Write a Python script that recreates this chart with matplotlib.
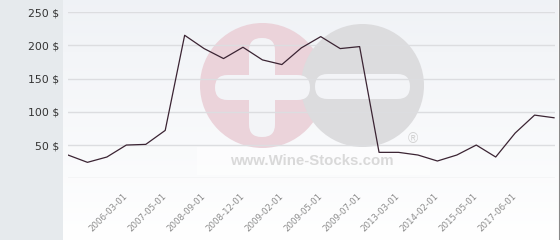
import numpy as np
import matplotlib
matplotlib.use("Agg")
import matplotlib.pyplot as plt
from matplotlib.patches import Circle, FancyBboxPatch, Rectangle

# price per bottle, one value per listed date
prices = [35, 24, 32, 50, 51, 72, 215, 195, 180, 197, 178, 171, 196,
          213, 195, 198, 39, 39, 35, 26, 35, 50, 32, 68, 95, 91]
# only every second point carries a date label on the axis
tick_points = [3, 5, 7, 9, 11, 13, 15, 17, 19, 21, 23]
tick_dates = ["2006-03-01", "2007-05-01", "2008-09-01", "2008-12-01",
              "2009-02-01", "2009-05-01", "2009-07-01", "2013-03-01",
              "2014-02-01", "2015-05-01", "2017-06-01"]
y_ticks = [0, 50, 100, 150, 200, 250]
y_labels = ["", "50 $", "100 $", "150 $", "200 $", "250 $"]

W, H = 560, 240
fig = plt.figure(figsize=(W / 100, H / 100), dpi=100)
fig.patch.set_facecolor("white")

# background layer in pixel coordinates
bg = fig.add_axes([0, 0, 1, 1])
bg.set_xlim(0, W)
bg.set_ylim(H, 0)
bg.axis("off")
bg.add_patch(Rectangle((0, 0), 63, H, color="#e6eaed", lw=0))
grad = np.linspace(0, 1, 256)[:, None]
top = np.array([0.94, 0.95, 0.965])
bot = np.array([1.0, 1.0, 1.0])
img = top[None, None, :] * (1 - grad[..., None]) + bot[None, None, :] * grad[..., None]
bg.imshow(img, extent=(63, 558, H, 0), aspect="auto", zorder=0.5)
bg.plot([558.5, 558.5], [0, H], color="#8a8a8a", lw=0.8)

# watermark
bar = "#f3f4f7"
bg.add_patch(Rectangle((197, 147), 233, 28, color="white", alpha=0.5, lw=0, zorder=1))
bg.add_patch(Circle((262.5, 85.5), 62.5, color="#ebd3da", lw=0, zorder=1))
bg.add_patch(Circle((362.5, 85.5), 61.5, color="#dcdcde", lw=0, zorder=1.1))
for x0, y0, w, h in [(215, 75, 95, 25), (249, 38, 26, 99), (315, 74, 95, 25)]:
    bg.add_patch(FancyBboxPatch((x0, y0), w, h,
                                boxstyle="round,pad=0,rounding_size=12.5",
                                color=bar, lw=0, zorder=1.2))
bg.text(312, 161, "www.Wine-Stocks.com", fontsize=10.8, fontweight="bold",
        family="Liberation Sans", color="#d9d9d9", ha="center", va="center", zorder=1.3)
bg.text(413, 139, "\u00ae", fontsize=10, family="Liberation Sans",
        color="#d2d2d2", ha="center", va="center", zorder=1.3)

# chart
ax = fig.add_axes([68 / W, (H - 178.3) / H, (555 - 68) / W, (178.3 - 12) / H])
ax.patch.set_alpha(0)
x = np.arange(len(prices))
ax.plot(x, prices, color="#3b2433", lw=0.9, zorder=3)
ax.set_xlim(0, len(prices) - 1 + 0.05)
ax.set_ylim(0, 250)
ax.set_yticks(y_ticks)
ax.set_yticklabels(y_labels, fontsize=7.8, color="#333333", family="DejaVu Sans")
ax.set_xticks(tick_points)
ax.set_xticklabels(tick_dates, fontsize=6.2, color="#8c8c8c", family="DejaVu Sans",
                   rotation=45, ha="right", va="center", rotation_mode="anchor")
ax.tick_params(axis="y", length=0, pad=6.5)
ax.tick_params(axis="x", length=0, pad=12)
ax.grid(axis="y", color="#dcdde0", lw=1)
ax.set_axisbelow(True)
for s in ax.spines.values():
    s.set_visible(False)

fig.savefig("out.png", dpi=100)
